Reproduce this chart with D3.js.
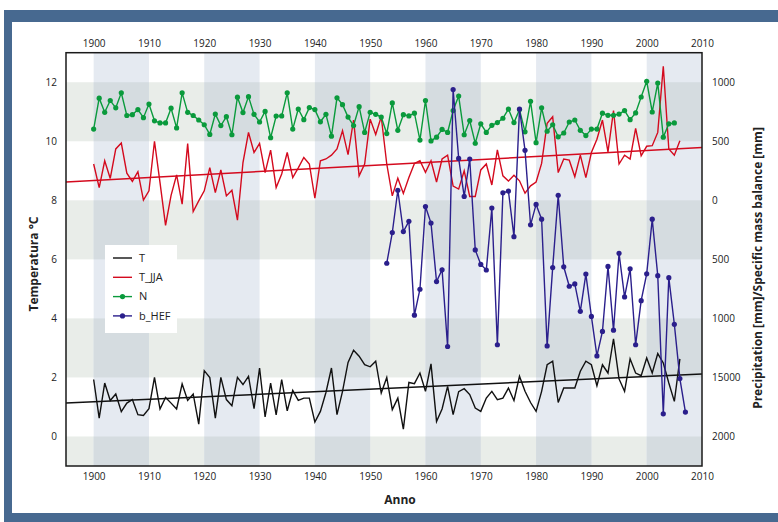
<!DOCTYPE html>
<html>
<head>
<meta charset="utf-8">
<script src="https://cdn.jsdelivr.net/npm/d3@7/dist/d3.min.js"></script>
<style>
	body { margin: 0; background: #fff; }
	text { font-family: "Open Sans", sans-serif; fill: #222; }
</style>
</head>
<body>
<svg id="chart" width="778" height="522"></svg>
<script>
// temperature (left axis, °C), one value per year from 1900
var tYears = d3.range(1900, 2007);
var tAnnual = [1.93, 0.62, 1.81, 1.22, 1.44, 0.84, 1.13, 1.25, 0.74, 0.71,
	0.94, 2.00, 0.93, 1.32, 1.13, 0.93, 1.78, 1.22, 1.44, 0.42,
	2.23, 2.00, 0.62, 2.00, 1.25, 1.04, 2.00, 1.76, 2.04, 0.94,
	2.32, 0.66, 1.81, 0.73, 1.93, 0.87, 1.56, 1.22, 1.30, 1.30,
	0.49, 0.85, 1.49, 2.32, 0.74, 1.53, 2.51, 2.92, 2.72, 2.43,
	2.36, 2.55, 1.47, 2.00, 0.91, 1.30, 0.25, 1.83, 1.79, 2.15,
	1.53, 2.46, 0.51, 0.93, 1.70, 0.74, 1.52, 1.62, 1.42, 0.96,
	0.85, 1.30, 1.53, 1.25, 1.30, 1.64, 1.22, 2.04, 1.53, 1.15,
	0.85, 1.53, 2.43, 2.55, 1.15, 1.64, 1.64, 1.64, 2.21, 2.55,
	2.43, 1.72, 2.43, 2.15, 3.31, 1.95, 1.53, 2.63, 2.15, 2.06,
	2.66, 2.15, 2.81, 2.49, 1.81, 1.19, 2.63];
var tJJA = [9.23, 8.43, 9.34, 8.74, 9.74, 9.94, 8.92, 8.64, 8.97, 8.01,
	8.32, 10.00, 8.60, 7.15, 8.17, 8.86, 7.87, 9.92, 7.62, 7.98,
	8.32, 9.11, 8.26, 9.03, 8.15, 8.34, 7.33, 9.28, 10.30, 9.62,
	9.93, 8.94, 9.70, 8.43, 8.89, 9.62, 8.77, 9.10, 9.45, 9.23,
	8.07, 9.34, 9.40, 9.53, 9.74, 10.36, 9.55, 10.72, 8.83, 9.23,
	10.75, 10.23, 10.83, 9.23, 8.15, 8.75, 8.23, 8.77, 9.25, 9.34,
	8.95, 9.34, 8.62, 9.40, 9.53, 8.48, 8.38, 9.00, 8.13, 8.13,
	9.03, 9.23, 8.52, 9.71, 8.83, 8.65, 8.85, 8.66, 8.24, 8.49,
	8.62, 9.25, 10.61, 10.83, 8.94, 9.40, 9.36, 8.80, 9.53, 8.77,
	9.62, 10.07, 10.72, 9.64, 11.04, 9.23, 9.53, 9.40, 10.44, 9.51,
	9.83, 9.85, 10.30, 12.54, 9.74, 9.53, 10.02];

// trend lines, values at the left and right edge of the plot
var trendYears = [1895, 2010];
var trendT = [1.13, 2.12];
var trendJJA = [8.62, 9.79];

// precipitation N (right axis, mm), from 1900
var nYears = d3.range(1900, 2006);
var nPrecip = [603, 865, 745, 845, 783, 910, 718, 725, 768, 700,
	815, 673, 655, 655, 780, 613, 910, 745, 718, 680,
	640, 558, 730, 633, 708, 555, 873, 743, 878, 728,
	663, 753, 530, 713, 715, 910, 603, 773, 683, 785,
	768, 665, 728, 543, 868, 810, 705, 633, 793, 575,
	745, 728, 705, 565, 825, 593, 725, 715, 738, 510,
	845, 503, 535, 600, 575, 760, 883, 555, 675, 483,
	648, 575, 635, 658, 695, 773, 658, 768, 580, 838,
	488, 783, 585, 640, 538, 570, 663, 680, 593, 548,
	603, 603, 738, 720, 720, 730, 760, 683, 740, 875,
	1008, 748, 993, 535, 648, 655];

// specific mass balance b_HEF (right axis, mm), from 1953
var bYears = d3.range(1953, 2008);
var bHEF = [-533, -273, 85, -265, -178, -973, -753, -53, -193, -688,
	-588, -1238, 938, 355, 33, 350, -420, -543, -590, -65,
	-1223, 63, 78, -308, 773, 423, -208, -35, -160, -1233,
	-570, 43, -563, -728, -708, -940, -625, -983, -1318, -1110,
	-560, -1100, -450, -818, -580, -1223, -850, -623, -160, -638,
	-1808, -655, -1050, -1510, -1793];

var xTicks = d3.range(1900, 2011, 10);
var yTicks = [0, 2, 4, 6, 8, 10, 12];
var rightTicks = [1000, 500, 0, -500, -1000, -1500, -2000];
var rightLabels = ["1000", "500", "0", "500", "1000", "15000", "2000"];
var shadedDecades = [1900, 1920, 1940, 1960, 1980, 2000];
var shadedBands = [-2, 2, 6, 10];

var colors = { T: "#111", T_JJA: "#d40a1e", N: "#0a9a3c", b_HEF: "#2b1f8c" };

var svg = d3.select("#chart");
var margin = { left: 66, right: 702, top: 52.7, bottom: 466 };

// blue frame
svg.append("rect").attr("x", 4).attr("y", 10).attr("width", 790).attr("height", 530).attr("fill", "#476990");
svg.append("rect").attr("x", 12).attr("y", 22).attr("width", 790).attr("height", 491).attr("fill", "#fff");

var x = d3.scaleLinear().domain([1895, 2010]).range([margin.left, margin.right]);
var y = d3.scaleLinear().domain([-1, 13]).range([margin.bottom, margin.top]);
var yR = d3.scaleLinear().domain([-2250, 1250]).range([margin.bottom, margin.top]);

var plot = svg.append("g");
plot.append("clipPath").attr("id", "clip")
	.append("rect")
	.attr("x", margin.left).attr("y", margin.top)
	.attr("width", margin.right - margin.left).attr("height", margin.bottom - margin.top);

var bg = plot.append("g").attr("clip-path", "url(#clip)");

function bandY (b) { return y(b + 2); }
function bandH (b) { return y(b) - y(b + 2); }

bg.selectAll(".hband").data(shadedBands).enter().append("rect")
	.attr("x", margin.left).attr("width", margin.right - margin.left)
	.attr("y", bandY).attr("height", bandH)
	.attr("fill", "#e9ede9");

bg.selectAll(".vband").data(shadedDecades).enter().append("rect")
	.attr("x", function (d) { return x(d); })
	.attr("width", function (d) { return x(d + 10) - x(d); })
	.attr("y", margin.top).attr("height", margin.bottom - margin.top)
	.attr("fill", "#e5eaf1");

shadedDecades.forEach(function (d) {
	bg.selectAll(null).data(shadedBands).enter().append("rect")
		.attr("x", x(d)).attr("width", x(d + 10) - x(d))
		.attr("y", bandY).attr("height", bandH)
		.attr("fill", "#d5dce0");
});

var marks = plot.append("g").attr("clip-path", "url(#clip)");

function drawLine (xs, vs, scale, color, width) {
	var line = d3.line()
		.x(function (d, i) { return x(xs[i]); })
		.y(function (d) { return scale(d); });
	marks.append("path")
		.datum(vs)
		.attr("d", line)
		.attr("fill", "none")
		.attr("stroke", color)
		.attr("stroke-width", width)
		.attr("stroke-linejoin", "miter");
}

function drawDots (xs, vs, scale, color) {
	marks.append("g").selectAll("circle").data(vs).enter().append("circle")
		.attr("cx", function (d, i) { return x(xs[i]); })
		.attr("cy", function (d) { return scale(d); })
		.attr("r", 2.6)
		.attr("fill", color);
}

drawLine(trendYears, trendJJA, y, colors.T_JJA, 1.5);
drawLine(trendYears, trendT, y, colors.T, 1.5);
drawLine(tYears, tJJA, y, colors.T_JJA, 1.4);
drawLine(tYears, tAnnual, y, colors.T, 1.4);
drawLine(nYears, nPrecip, yR, colors.N, 1.4);
drawDots(nYears, nPrecip, yR, colors.N);
drawLine(bYears, bHEF, yR, colors.b_HEF, 1.4);
drawDots(bYears, bHEF, yR, colors.b_HEF);

// plot frame
plot.append("rect")
	.attr("x", margin.left).attr("y", margin.top)
	.attr("width", margin.right - margin.left).attr("height", margin.bottom - margin.top)
	.attr("fill", "none").attr("stroke", "#1a1a1a").attr("stroke-width", 1.5);

// axes
function styleAxis (g) {
	g.select(".domain").remove();
	g.selectAll("text").style("font-family", "'Open Sans', sans-serif").style("font-size", "10px").attr("fill", "#222");
}

svg.append("g").attr("transform", "translate(0," + margin.top + ")")
	.call(d3.axisTop(x).tickValues(xTicks).tickFormat(d3.format("d")).tickSize(0).tickPadding(6))
	.call(styleAxis);
svg.append("g").attr("transform", "translate(0," + margin.bottom + ")")
	.call(d3.axisBottom(x).tickValues(xTicks).tickFormat(d3.format("d")).tickSize(0).tickPadding(7))
	.call(styleAxis);
svg.append("g").attr("transform", "translate(" + margin.left + ",0)")
	.call(d3.axisLeft(y).tickValues(yTicks).tickSize(0).tickPadding(9))
	.call(styleAxis);
svg.append("g").attr("transform", "translate(" + margin.right + ",0)")
	.call(d3.axisRight(yR).tickValues(rightTicks)
		.tickFormat(function (d, i) { return rightLabels[i]; })
		.tickSize(0).tickPadding(10))
	.call(styleAxis);

// axis titles
svg.append("text").attr("x", 400).attr("y", 504)
	.attr("text-anchor", "middle").style("font-size", "12px").style("font-weight", "bold")
	.text("Anno");
svg.append("text").attr("transform", "translate(38,264) rotate(-90)")
	.attr("text-anchor", "middle").style("font-size", "12px").style("font-weight", "bold")
	.text("Temperatura °C");
svg.append("text").attr("transform", "translate(762,268) rotate(-90)")
	.attr("text-anchor", "middle").style("font-size", "12px").style("font-weight", "bold")
	.text("Precipitation [mm]/Specific mass balance  [mm]");

// legend
var legendItems = ["T", "T_JJA", "N", "b_HEF"];
var legend = svg.append("g").attr("transform", "translate(105,245)");
legend.append("rect").attr("width", 72).attr("height", 88).attr("fill", "#fff");
var item = legend.selectAll(".item").data(legendItems).enter().append("g")
	.attr("transform", function (d, i) { return "translate(0," + (13 + i * 19.3) + ")"; });
item.append("line").attr("x1", 8).attr("x2", 27)
	.attr("stroke", function (d) { return colors[d]; }).attr("stroke-width", 1.4);
item.filter(function (d) { return d === "N" || d === "b_HEF"; })
	.append("circle").attr("cx", 17.5).attr("r", 2.6)
	.attr("fill", function (d) { return colors[d]; });
item.append("text").attr("x", 34).attr("dy", "0.35em").style("font-size", "11px")
	.text(function (d) { return d; });
</script>
</body>
</html>
